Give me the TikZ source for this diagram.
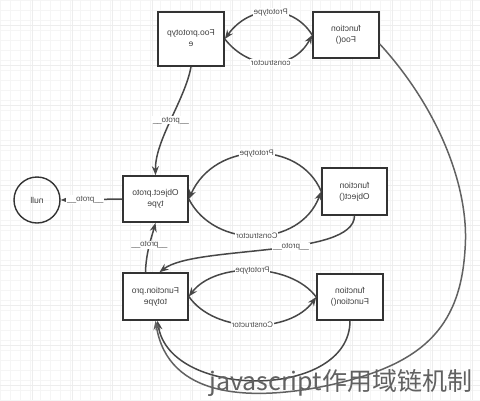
\documentclass[tikz,border=0pt]{standalone}
\usepackage{fontspec}
\usepackage{graphicx}
\setsansfont{Liberation Sans}
\newfontfamily\cjkfont{Noto Sans CJK SC}
\usetikzlibrary{calc,
                 arrows.meta
  }

% mirrored text, one line and two lines
\newcommand{\mone}[1]{\reflectbox{#1}}
\newcommand{\mtwo}[2]{\reflectbox{\begin{tabular}{@{}c@{}}#1\\#2\end{tabular}}}

\begin{document}
\begin{tikzpicture}[
      x=1pt, y=-1pt,
      objbox/.style={
                rectangle,
                draw=black!80,
                line width=1.6pt,
                align=center,
                minimum width=66pt,
                minimum height=47pt,
                inner sep=1pt,
                fill=white,
                text=black!75,
                font=\sffamily\fontsize{8.5}{11}\selectfont
                },
      lnk/.style={
                draw=black!72,
                line width=1.5pt,
                -{Stealth[length=9pt,width=7pt]}
                },
      lbl/.style={
                fill=white,
                inner sep=0.8pt,
                text=black!70,
                font=\sffamily\fontsize{8}{9}\selectfont
                }
]

\useasboundingbox (0,0) rectangle (480,400);
\fill[white] (0,0) rectangle (480,400);

% background grid
\foreach \g in {0,10,...,480}
  \draw[black!4, line width=0.4pt] (\g,0) -- (\g,400);
\foreach \g in {0,10,...,400}
  \draw[black!4, line width=0.4pt] (0,\g) -- (480,\g);
\foreach \g in {32,72,...,480}
  \draw[black!7, line width=0.5pt] (\g,0) -- (\g,400);
\foreach \g in {25,65,...,400}
  \draw[black!7, line width=0.5pt] (0,\g) -- (480,\g);

% objects
\node[objbox, minimum height=54pt] (foop) at (191,39)    {\mtwo{Foo.prototyp}{e}};
\node[objbox, minimum height=46pt] (foo)  at (346,35)    {\mtwo{function}{Foo()}};
\node[objbox, minimum width=65pt, minimum height=46pt] (objp) at (155.5,199) {\mtwo{Object.proto}{type}};
\node[objbox, minimum width=65pt] (obj)  at (354.5,191.5) {\mtwo{function}{Object()}};
\node[objbox, minimum width=65pt] (funp) at (155.5,296.5) {\mtwo{Function.pro}{totype}};
\node[objbox, minimum height=46pt] (fun)  at (350,297)   {\mtwo{function}{Function()}};
\node[circle, draw=black!80, line width=1.4pt, minimum size=46pt, text=black!75,
      font=\sffamily\fontsize{8.5}{10}\selectfont] (null) at (37,200) {\mone{null}};

% Foo
\draw[lnk] (foo.west) .. controls (293,4) and (250,4) .. (foop.east)
      node[lbl, pos=0.5] {\mone{Prototype}};
\draw[lnk] (foop.east) .. controls (250,71) and (293,71) .. (foo.west)
      node[lbl, pos=0.5] {\mone{constructor}};
\draw[lnk] (foop.south) .. controls (185,100) and (155,140) .. (objp.north)
      node[lbl, pos=0.5] {\mone{\_\_proto\_\_}};

% Object
\draw[lnk] (obj.west) .. controls (300,140) and (215,140) .. (objp.east)
      node[lbl, pos=0.5] {\mone{Prototype}};
\draw[lnk] (objp.east) .. controls (215,250) and (300,248) .. (obj.west)
      node[lbl, pos=0.5] {\mone{Constructor}};
\draw[lnk] (objp.west) -- (null.east)
      node[lbl, pos=0.6] {\mone{\_\_proto\_\_}};
\draw[lnk] (obj.south) .. controls (354,258) and (195,245) .. ($(funp.north)+(4,0)$)
      node[lbl, pos=0.42] {\mone{\_\_proto\_\_}};

% Function
\draw[lnk] ($(funp.north)+(-10,0)$) .. controls (146,252) and (152,236) .. (objp.south)
      node[lbl, pos=0.5] {\mone{\_\_proto\_\_}};
\draw[lnk] (fun.west) .. controls (290,262) and (215,262) .. (funp.east)
      node[lbl, pos=0.5] {\mone{Prototype}};
\draw[lnk] (funp.east) .. controls (215,334) and (290,334) .. (fun.west)
      node[lbl, pos=0.5] {\mone{Constructor}};
\draw[lnk] (fun.south) .. controls (350,400) and (170,400) .. ($(funp.south)+(2,0)$);

% Foo() down to Function.prototype
\draw[lnk, draw=black!62] (foo.-15) .. controls (440,110) and (470,190) .. (465,250)
      .. controls (460,330) and (420,365) .. (330,385)
      .. controls (250,402) and (168,398) .. (funp.south);

% caption
\node[anchor=base west, inner sep=0pt, text=black!62,
      font=\cjkfont\fontsize{25}{25}\selectfont] (cap) at (209,390) {javascript作用域链机制};

\end{tikzpicture}
\end{document}
